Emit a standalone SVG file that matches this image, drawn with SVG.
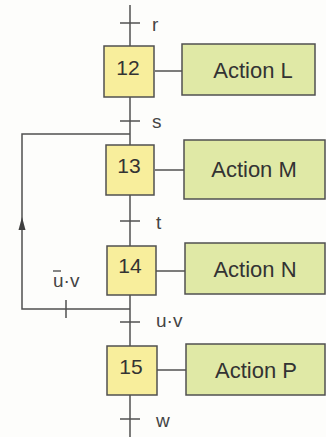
<svg xmlns="http://www.w3.org/2000/svg" width="326" height="437" viewBox="0 0 326 437">
<style>
.step{fill:#f8ee9c;stroke:#505050;stroke-width:1.5}
.act{fill:#e0e9a6;stroke:#505050;stroke-width:1.5}
.ln{stroke:#505050;stroke-width:1.5;fill:none}
.num{font-family:"Liberation Sans",Arial,sans-serif;font-size:21px;fill:#333;text-anchor:middle}
.lbl{font-family:"Liberation Sans",Arial,sans-serif;font-size:22px;fill:#333;text-anchor:middle}
.cond{font-family:"Liberation Sans",Arial,sans-serif;font-size:19px;fill:#444}
</style>
<rect width="326" height="437" fill="#fdfdfb"/>
<g id="connectors">
<line class="ln" x1="130" y1="5" x2="130" y2="46"/>
<line class="ln" x1="130" y1="97" x2="130" y2="145"/>
<line class="ln" x1="130" y1="195" x2="130" y2="246"/>
<line class="ln" x1="130" y1="295" x2="130" y2="346"/>
<line class="ln" x1="130" y1="395" x2="130" y2="437"/>
<line class="ln" x1="120" y1="23" x2="140" y2="23"/>
<line class="ln" x1="120" y1="121" x2="140" y2="121"/>
<line class="ln" x1="120" y1="221" x2="140" y2="221"/>
<line class="ln" x1="120" y1="322" x2="140" y2="322"/>
<line class="ln" x1="120" y1="419" x2="140" y2="419"/>
<polyline class="ln" points="130,309 22,309 22,134 130,134"/>
<path d="M22 217 L25.5 230 L18.5 230 Z" fill="#404040"/>
<line class="ln" x1="66" y1="300" x2="66" y2="318"/>
<line class="ln" x1="155" y1="71" x2="182" y2="71"/>
<line class="ln" x1="155" y1="170" x2="184" y2="170"/>
<line class="ln" x1="156" y1="271" x2="185" y2="271"/>
<line class="ln" x1="157" y1="370" x2="186" y2="370"/>
<text class="cond" x="152" y="31">r</text>
<text class="cond" x="152" y="128">s</text>
<text class="cond" x="156" y="229">t</text>
<text class="cond" x="156" y="327">u·v</text>
<text class="cond" x="156" y="427">w</text>
<text class="cond" x="53" y="287">u·v</text>
<line x1="53" y1="271" x2="61" y2="271" stroke="#444" stroke-width="1.3"/>
</g>
<g id="step12"><rect class="step" x="104" y="46" width="50" height="51"/><text class="num" x="128" y="75">12</text></g>
<g id="step13"><rect class="step" x="106" y="145" width="48" height="50"/><text class="num" x="129" y="173">13</text></g>
<g id="step14"><rect class="step" x="107" y="246" width="49" height="49"/><text class="num" x="130" y="273">14</text></g>
<g id="step15"><rect class="step" x="107" y="346" width="50" height="49"/><text class="num" x="131" y="374">15</text></g>
<g id="actionL"><rect class="act" x="182" y="44" width="133" height="51"/><text class="lbl" x="253" y="78">Action L</text></g>
<g id="actionM"><rect class="act" x="184" y="140" width="141" height="59"/><text class="lbl" x="254" y="177">Action M</text></g>
<g id="actionN"><rect class="act" x="185" y="243" width="140" height="51"/><text class="lbl" x="255" y="277">Action N</text></g>
<g id="actionP"><rect class="act" x="186" y="344" width="139" height="51"/><text class="lbl" x="256" y="378">Action P</text></g>
</svg>
